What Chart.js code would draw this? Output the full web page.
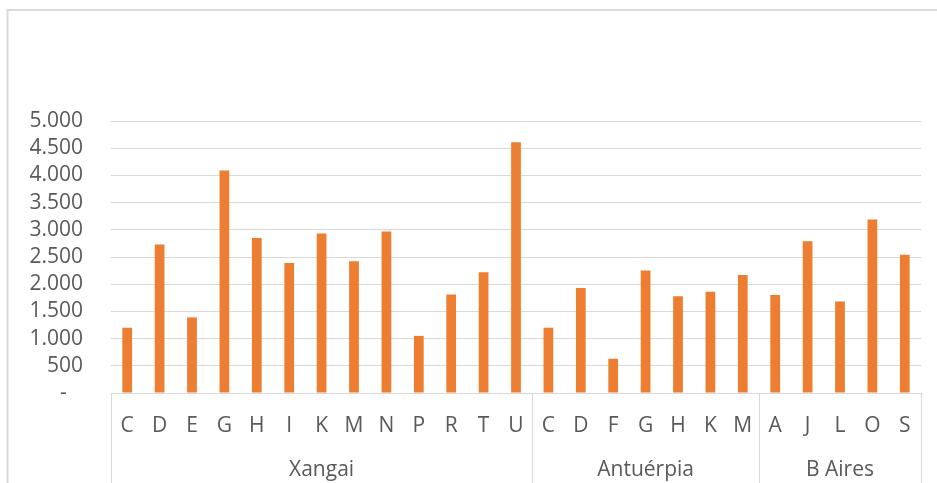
<html>
<head>
  <meta charset="UTF-8">
  <title>Bar chart by port</title>
  <script src="https://cdn.jsdelivr.net/npm/chart.js"></script>
  <style>
    html, body { margin: 0; padding: 0; background: #fff; }
    #wrap { width: 937px; height: 483px; }
  </style>
</head>
<body>
  <div id="wrap"><canvas id="chart" width="937" height="483"></canvas></div>
  <script>
    // --- Data ---
    const letters = ['C','D','E','G','H','I','K','M','N','P','R','T','U',
                     'C','D','F','G','H','K','M',
                     'A','J','L','O','S'];
    const values  = [1200, 2730, 1390, 4090, 2850, 2390, 2930, 2420, 2970, 1050, 1810, 2220, 4610,
                     1200, 1930, 630, 2250, 1780, 1860, 2170,
                     1800, 2790, 1680, 3190, 2540];
    const groups      = ['Xangai', 'Antuérpia', 'B Aires'];
    const groupSizes  = [13, 7, 5];
    const yTicks      = [0, 500, 1000, 1500, 2000, 2500, 3000, 3500, 4000, 4500, 5000];

    // group centres and boundaries, in category index units
    const groupCenters = [], groupEdges = [-0.5];
    let start = 0;
    groupSizes.forEach(n => {
      groupCenters.push(start + (n - 1) / 2);
      start += n;
      groupEdges.push(start - 0.5);
    });

    const GRID = '#d9d9d9';
    const TEXT = '#595959';
    const FONT = { family: 'Open Sans', size: 21 };

    // outer frame + group separators
    const framePlugin = {
      id: 'frame',
      beforeDraw(chart) {
        const c = chart.ctx;
        c.save();
        c.strokeStyle = GRID;
        c.lineWidth = 2;
        c.beginPath();
        c.moveTo(7.5, chart.height);
        c.lineTo(7.5, 10);
        c.lineTo(chart.width, 10);
        c.stroke();
        c.restore();
      },
      afterDraw(chart) {
        const x2 = chart.scales.x2;
        const c = chart.ctx;
        c.save();
        c.strokeStyle = GRID;
        c.lineWidth = 1;
        groupEdges.forEach(v => {
          const px = Math.round(x2.getPixelForValue(v)) + 0.5;
          c.beginPath();
          c.moveTo(px, chart.chartArea.bottom);
          c.lineTo(px, chart.height);
          c.stroke();
        });
        c.restore();
      }
    };

    new Chart(document.getElementById('chart'), {
      type: 'bar',
      data: {
        labels: letters,
        datasets: [{
          data: values,
          backgroundColor: '#ed7d31',
          categoryPercentage: 1,
          barPercentage: 0.3
        }]
      },
      options: {
        responsive: false,
        animation: false,
        layout: { padding: { top: 121, right: 16, bottom: 0, left: 0 } },
        plugins: { legend: { display: false }, tooltip: { enabled: false } },
        scales: {
          y: {
            min: 0, max: 5000,
            afterBuildTicks(s) { s.ticks = yTicks.map(v => ({ value: v })); },
            afterFit(s) { s.width = 111; },
            border: { display: false },
            grid: { color: GRID, lineWidth: 1, drawTicks: false },
            ticks: {
              color: TEXT, font: FONT, padding: 28, autoSkip: false,
              callback: v => v === 0 ? '-   ' : v.toLocaleString('de-DE')
            }
          },
          x: {
            position: 'bottom',
            afterFit(s) { s.height = 56; },
            grid: { display: false },
            border: { color: GRID, width: 1 },
            ticks: { color: TEXT, font: FONT, padding: 12, maxRotation: 0, autoSkip: false }
          },
          x2: {
            type: 'linear',
            position: 'bottom',
            offset: false,
            min: -0.5, max: letters.length - 0.5,
            afterBuildTicks(s) { s.ticks = groupCenters.map(v => ({ value: v })); },
            afterFit(s) { s.height = 34; },
            grid: { display: false },
            border: { display: false },
            ticks: {
              color: TEXT, font: FONT, padding: 0, maxRotation: 0, autoSkip: false,
              callback: (v, i) => groups[i]
            }
          }
        }
      },
      plugins: [framePlugin]
    });
  </script>
</body>
</html>
